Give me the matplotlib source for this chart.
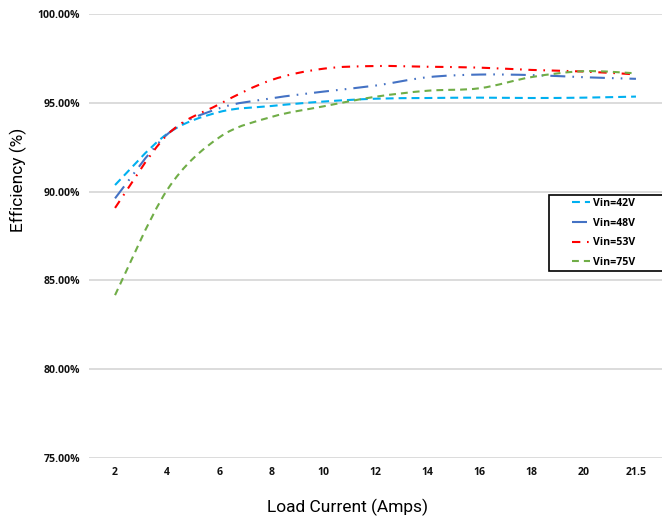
import numpy as np
import matplotlib
matplotlib.use("Agg")
import matplotlib.pyplot as plt
from matplotlib.path import Path
from matplotlib.patches import PathPatch, Rectangle
from matplotlib.lines import Line2D
from matplotlib.ticker import FuncFormatter

# ========================
# DATA (efficiency in %)
# ========================
currents = ["2", "4", "6", "8", "10", "12", "14", "16", "18", "20", "21.5"]

vin_42 = [90.37, 93.25, 94.48, 94.82, 95.07, 95.23, 95.27, 95.29, 95.27, 95.29, 95.35]
vin_48 = [89.62, 93.22, 94.69, 95.25, 95.63, 95.97, 96.44, 96.59, 96.56, 96.44, 96.35]
vin_53 = [89.08, 93.19, 94.92, 96.28, 96.92, 97.07, 97.03, 96.98, 96.85, 96.76, 96.60]
vin_75 = [84.17, 90.09, 93.05, 94.20, 94.80, 95.34, 95.68, 95.82, 96.45, 96.78, 96.66]

labels = ["Vin=42V", "Vin=48V", "Vin=53V", "Vin=75V"]
colors = ["#00B0F0", "#4472C4", "#FF0000", "#70AD47"]
styles = [(0, (3.8, 2.4)),
          (0, (7.2, 3.4, 0.8, 3.4, 0.8, 3.4)),
          (0, (4.0, 3.2, 0.8, 3.2)),
          (0, (3.3, 2.4))]

LW = 1.5
tick_font = "Open Sans"
label_font = "Roboto"


# Excel-like smoothed line: cubic bezier through the data points
def smooth_path(xs, ys):
    xs = np.asarray(xs, float)
    ys = np.asarray(ys, float)
    n = len(xs)
    verts = [(xs[0], ys[0])]
    codes = [Path.MOVETO]
    for i in range(n - 1):
        i0 = max(i - 1, 0)
        i3 = min(i + 2, n - 1)
        c1 = (xs[i] + (xs[i + 1] - xs[i0]) / 6, ys[i] + (ys[i + 1] - ys[i0]) / 6)
        c2 = (xs[i + 1] - (xs[i3] - xs[i]) / 6, ys[i + 1] - (ys[i3] - ys[i]) / 6)
        verts += [c1, c2, (xs[i + 1], ys[i + 1])]
        codes += [Path.CURVE4] * 3
    return Path(verts, codes)


W, H = 662, 519
fig = plt.figure(figsize=(W / 100, H / 100), dpi=100)
ax = fig.add_axes([89 / W, 61 / H, 573 / W, 444 / H])

x = np.arange(len(currents))
handles = []
for ys, lab, col, ls in zip([vin_42, vin_48, vin_53, vin_75], labels, colors, styles):
    patch = PathPatch(smooth_path(x, ys), fill=False, edgecolor=col, lw=LW,
                      linestyle=ls, capstyle="butt", zorder=3)
    ax.add_patch(patch)
    handles.append(Line2D([], [], color=col, lw=LW, linestyle=ls, label=lab))

ax.set_xlim(-0.5, len(currents) - 0.5)
ax.set_ylim(75, 100)
ax.set_xticks(x)
ax.set_xticklabels(currents)
ax.set_yticks([75, 80, 85, 90, 95, 100])
ax.yaxis.set_major_formatter(FuncFormatter(lambda v, p: f"{v:.2f}%"))

for lbl in ax.get_xticklabels() + ax.get_yticklabels():
    lbl.set_fontfamily(tick_font)
    lbl.set_fontweight("bold")
    lbl.set_fontsize(7.6)
    lbl.set_color("#111111")

ax.tick_params(axis="x", length=0, pad=6.5)
ax.tick_params(axis="y", length=0, pad=6.5)
ax.grid(axis="y", color="#d9d9d9", lw=1.3)
ax.set_axisbelow(True)
for s in ax.spines.values():
    s.set_visible(False)

fig.text(18 / W, 1 - 180 / H, "Efficiency (%)", rotation=90, ha="center", va="center",
         fontsize=12.5, family=label_font)
fig.text(348 / W, 1 - 507 / H, "Load Current (Amps)", ha="center", va="center",
         fontsize=12.5, family=label_font)

# legend box (frame drawn separately, runs off the right edge like the original)
fig.patches.append(Rectangle((549 / W, 1 - 271 / H), 120 / W, 76 / H,
                             transform=fig.transFigure, fill=True, facecolor="white",
                             edgecolor="black", lw=1.2, zorder=4))
leg = fig.legend(handles=handles, loc="upper left", bbox_to_anchor=(572 / W, 1 - 198 / H),
                 prop={"family": tick_font, "weight": "bold", "size": 7.6},
                 handlelength=1.7, handletextpad=0.25, labelspacing=0.82,
                 borderpad=0, borderaxespad=0, frameon=False)
leg.set_zorder(5)

fig.savefig("out.png", dpi=100)
